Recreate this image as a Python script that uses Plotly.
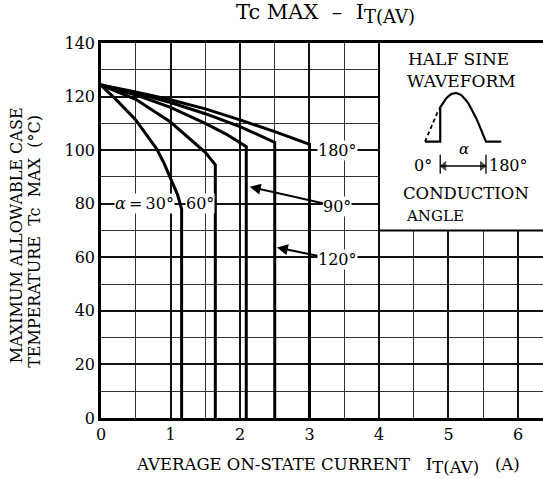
import plotly.graph_objects as go
import numpy as np

# ---- data ----
x_30 = [0, 0.25, 0.5, 0.7, 0.8, 0.9, 1.0, 1.1, 1.16, 1.16]
y_30 = [124.3, 118.0, 111.3, 104.0, 100.5, 95.5, 89.8, 83.5, 78.0, 0]

x_60 = [0, 0.5, 1.0, 1.25, 1.5, 1.645, 1.645]
y_60 = [124.3, 119.0, 110.5, 105.0, 99.2, 94.5, 0]

x_90 = [0, 0.5, 1.0, 1.5, 1.8, 2.09, 2.09]
y_90 = [124.3, 120.6, 116.0, 110.0, 106.0, 101.3, 0]

x_120 = [0, 0.5, 1.0, 1.5, 2.0, 2.5, 2.5]
y_120 = [124.3, 121.3, 117.8, 113.6, 108.8, 102.9, 0]

x_180 = [0, 0.5, 1.0, 1.5, 2.0, 2.5, 3.0, 3.0]
y_180 = [124.3, 121.7, 118.8, 115.4, 111.3, 106.9, 102.2, 0]

x_ticks = [0, 1, 2, 3, 4, 5, 6]
y_ticks = [0, 20, 40, 60, 80, 100, 120, 140]

# half-sine waveform sketch (degrees)
conduction_start = 45
wave_dashed_deg = list(range(0, conduction_start + 1, 5))
wave_solid_deg = list(range(conduction_start, 181, 5))

FONT = "DejaVu Serif"
BLACK = "#000000"

fig = go.Figure()

for xs, ys in [(x_30, y_30), (x_60, y_60), (x_90, y_90), (x_120, y_120), (x_180, y_180)]:
    fig.add_trace(go.Scatter(x=xs, y=ys, mode="lines",
                             line=dict(color=BLACK, width=3), showlegend=False,
                             hoverinfo="skip"))

# waveform in inset axes
dash_y = [float(np.sin(np.radians(a))) for a in wave_dashed_deg]
fig.add_trace(go.Scatter(x=wave_dashed_deg, y=dash_y, mode="lines", xaxis="x2", yaxis="y2",
                         line=dict(color=BLACK, width=1.8, dash="4px,3px"), showlegend=False,
                         hoverinfo="skip"))
solid_x = [0, conduction_start] + wave_solid_deg + [225]
solid_y = [0, 0] + [float(np.sin(np.radians(a))) for a in wave_solid_deg] + [0]
solid_y[-2] = 0.0
fig.add_trace(go.Scatter(x=solid_x, y=solid_y, mode="lines", xaxis="x2", yaxis="y2",
                         line=dict(color=BLACK, width=2.2), showlegend=False,
                         hoverinfo="skip"))

# double-headed conduction-angle arrow
arrow_y = -0.5
fig.add_trace(go.Scatter(x=[conduction_start, 180], y=[arrow_y, arrow_y], mode="lines",
                         xaxis="x2", yaxis="y2", line=dict(color=BLACK, width=1.4),
                         showlegend=False, hoverinfo="skip"))
fig.add_trace(go.Scatter(x=[conduction_start + 11, 180 - 11], y=[arrow_y, arrow_y],
                         mode="markers", xaxis="x2", yaxis="y2",
                         marker=dict(symbol=["triangle-left", "triangle-right"], size=[9, 9],
                                     color=BLACK, line=dict(width=0)),
                         showlegend=False, hoverinfo="skip"))

fig.update_layout(
    width=543, height=479,
    margin=dict(l=101, r=0, t=43, b=61),
    paper_bgcolor="white", plot_bgcolor="white",
    font=dict(family=FONT, color=BLACK, size=16),
    xaxis=dict(range=[0, 6.36], tickvals=x_ticks, showgrid=True, gridcolor="#111",
               gridwidth=1.8, zeroline=False, showline=True, linecolor=BLACK,
               linewidth=2.5, mirror=True, ticks="",
               minor=dict(dtick=0.5, showgrid=True, gridcolor="#333", gridwidth=1.2),
               tickfont=dict(family=FONT, size=16, color=BLACK)),
    yaxis=dict(range=[0, 140], tickvals=y_ticks, showgrid=True, gridcolor="#111",
               gridwidth=1.8, zeroline=False, showline=True, linecolor=BLACK,
               linewidth=2.5, mirror=False, ticks="",
               minor=dict(dtick=10, showgrid=True, gridcolor="#333", gridwidth=1.2),
               tickfont=dict(family=FONT, size=16, color=BLACK)),
    xaxis2=dict(domain=[0.7023, 0.917], range=[-40, 240], anchor="y2", visible=False),
    yaxis2=dict(domain=[0.6395, 0.873], range=[-0.75, 1.05], anchor="x2", visible=False),
)

# white inset panel covering grid
fig.add_shape(type="rect", xref="x", yref="y", x0=4, x1=7, y0=70, y1=150,
              fillcolor="white", line=dict(color=BLACK, width=2), layer="between")

# inset tick marks for the angle arrow
for xv in [conduction_start, 180]:
    fig.add_shape(type="line", xref="x2", yref="y2", x0=xv, x1=xv, y0=-0.27, y1=-0.66,
                  line=dict(color=BLACK, width=1.3))

def label(text, x, y, size=16, xanchor="center", bg=None, xref="x", yref="y", angle=0):
    fig.add_annotation(x=x, y=y, xref=xref, yref=yref, text=text, showarrow=False,
                       font=dict(family=FONT, size=size, color=BLACK),
                       xanchor=xanchor, yanchor="middle", textangle=angle,
                       bgcolor=bg, borderpad=0)

# inset texts
label("HALF SINE", 5.14, 134.0, size=17)
label("WAVEFORM", 5.19, 125.8, size=17)
label("<i>α</i>", 5.23, 100.5, size=15)
label("0°", 4.64, 94.4, size=16)
label("180°", 5.575, 94.4, size=16, xanchor="left")
label("CONDUCTION", 5.25, 83.9, size=16.5)
label("ANGLE", 4.37, 75.6, size=15, xanchor="left")

# curve labels
label("<i>α</i>\u2009=\u200930°", 0.62, 80, size=16, bg="white")
label("60°", 1.42, 80, size=16, bg="white")
label("180°", 3.40, 100, size=16, bg="white")

for text, head, tail in [("90°", (2.14, 86.3), (3.40, 79.0)),
                         ("120°", (2.53, 63.7), (3.40, 59.0))]:
    fig.add_annotation(x=head[0], y=head[1], ax=tail[0], ay=tail[1], xref="x", yref="y",
                       axref="x", ayref="y", text=text, showarrow=True,
                       arrowhead=2, arrowsize=1.1, arrowwidth=2, arrowcolor=BLACK,
                       font=dict(family=FONT, size=16, color=BLACK), bgcolor="white",
                       borderpad=0, standoff=0)

# titles
label("Tc\u00a0MAX\u00a0\u00a0–\u00a0\u00a0I<sub><span style=\"font-size:18px\">T(AV)</span></sub>",
      0.507, 1.078, size=21, xref="paper", yref="paper")
label("AVERAGE ON-STATE CURRENT\u00a0\u00a0\u00a0I<sub><span style=\"font-size:16.5px\">T(AV)</span></sub>\u00a0\u00a0\u00a0(A)",
      0.514, -0.128, size=16.5, xref="paper", yref="paper")
label("MAXIMUM ALLOWABLE CASE", -0.192, 0.488, size=16, xref="paper", yref="paper", angle=-90)
label("TEMPERATURE\u00a0\u00a0Tc\u00a0\u00a0MAX\u00a0\u00a0(°C)", -0.152, 0.472, size=16,
      xref="paper", yref="paper", angle=-90)

fig.write_html("out.html")
